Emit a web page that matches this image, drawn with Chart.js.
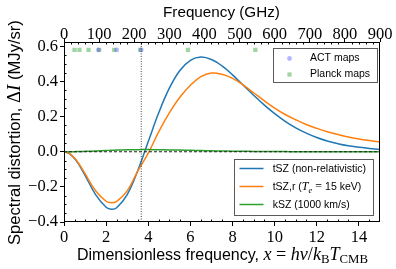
<!DOCTYPE html>
<html><head><meta charset="utf-8">
<script src="https://cdn.jsdelivr.net/npm/chart.js@4.4.1/dist/chart.umd.min.js"></script>
<style>html,body{margin:0;padding:0;background:#fff;overflow:hidden}</style>
</head><body>
<canvas id="c" width="396" height="269"></canvas>
<script>
// ---- data ----
const xDimless = [0,0.25,0.5,0.75,1,1.5,2,2.25,2.5,3,3.5,4,4.5,5,5.5,6,6.5,7,7.5,8,8.5,9,9.5,10,10.5,11,11.5,12,12.5,13,13.5,14,14.5,15];
const tszNonRel = [0,-0.010,-0.038,-0.081,-0.134,-0.244,-0.316,-0.327,-0.319,-0.244,-0.108,0.058,0.223,0.362,0.463,0.521,0.539,0.525,0.489,0.438,0.380,0.322,0.267,0.217,0.173,0.136,0.106,0.081,0.061,0.046,0.034,0.025,0.019,0.0135];
const tszRel = [0,-0.009,-0.036,-0.076,-0.125,-0.222,-0.282,-0.291,-0.283,-0.223,-0.110,-0.008,0.115,0.222,0.310,0.379,0.428,0.448,0.441,0.418,0.381,0.336,0.291,0.249,0.212,0.182,0.155,0.133,0.114,0.098,0.084,0.073,0.064,0.056];
const kszVals = [0,0.0002,0.0006,0.0013,0.0023,0.0047,0.0072,0.0085,0.0095,0.0112,0.0120,0.0122,0.0116,0.0107,0.0094,0.0081,0.0067,0.0055,0.0044,0.0034,0.0027,0.0020,0.0015,0.0011,0.0008,0.0006,0.0004,0.0003,0.0002,0.0002,0.0001,0.0001,0.0001,0];
const actMapsGHz = [98,150,220];
const planckMapsGHz = [30,44,70,100,143,217,353,545];
const mapMarkerLevel = 0.58;
const nullLineGHz = 220;
const xTicksDimless = [0,2,4,6,8,10,12,14];
const yTicks = [-0.4,-0.2,0,0.2,0.4,0.6];
const topTicksGHz = [0,100,200,300,400,500,600,700,800,900];

const SANS = '"Liberation Sans", Arial, sans-serif';
const SERIF = '"Liberation Serif", "Times New Roman", serif';
const C_BLUE = '#1f77b4', C_ORANGE = '#ff7f0e', C_GREEN = '#2ca02c';
const ACT_FILL = 'rgba(60,60,255,0.38)', PLANCK_FILL = 'rgba(44,160,44,0.45)';

function pts(xs, ys){ return xs.map((x,i)=>({x:x, y:ys[i]})); }

function drawRunsFit(ctx, runs, cx, by, targetW){
  const font = (r,k)=> (r.st ? r.st+' ' : '') + (r.sz*k).toFixed(2) + 'px ' + r.fam;
  let w = 0;
  runs.forEach(r=>{ ctx.font = font(r,1); w += ctx.measureText(r.t).width; });
  const k = targetW / w;
  let x = cx - targetW/2;
  runs.forEach(r=>{ ctx.font = font(r,k); ctx.fillText(r.t, x, by + (r.dy||0)*k); x += ctx.measureText(r.t).width; });
}

const decor = {
  id:'decor',
  afterDraw(chart){
    const {ctx, chartArea:a, scales} = chart;
    ctx.save();
    ctx.strokeStyle = '#000'; ctx.lineWidth = 1;
    ctx.strokeRect(Math.round(a.left)+0.5, Math.round(a.top)+0.5, Math.round(a.right-a.left)-1, Math.round(a.bottom-a.top)-1);
    ctx.beginPath();
    for (let v=0.5; v<15; v+=0.5){ if (Math.abs(v%2)<1e-9) continue; const p=Math.round(scales.x.getPixelForValue(v))+0.5; ctx.moveTo(p,a.bottom); ctx.lineTo(p,a.bottom-2.5); }
    for (let g=20; g<900; g+=20){ if (g%100===0) continue; const p=Math.round(scales.x2.getPixelForValue(g))+0.5; ctx.moveTo(p,a.top); ctx.lineTo(p,a.top+2.5); }
    for (let k=-7; k<=12; k++){ if (k%4===0) continue; const v=k*0.05; const p=Math.round(scales.y.getPixelForValue(v))+0.5; ctx.moveTo(a.left,p); ctx.lineTo(a.left+2.5,p); }
    ctx.stroke();

    ctx.fillStyle = '#000';
    ctx.textAlign = 'left'; ctx.textBaseline = 'alphabetic';
    drawRunsFit(ctx, [{t:'Frequency (GHz)', fam:SANS, sz:15}], 221.5, 16.7, 117);
    drawRunsFit(ctx, [
      {t:'Dimensionless frequency, ', fam:SANS, sz:15},
      {t:'x', fam:SERIF, st:'italic', sz:17},{t:' = ', fam:SERIF, sz:17},{t:'hν', fam:SERIF, st:'italic', sz:17},
      {t:'/', fam:SERIF, sz:17},{t:'k', fam:SERIF, st:'italic', sz:17},
      {t:'B', fam:SERIF, sz:12, dy:3},{t:'T', fam:SERIF, st:'italic', sz:17},{t:'CMB', fam:SERIF, sz:12, dy:3}
    ], 222.5, 259.5, 291);
    ctx.save();
    ctx.translate(20, 132.5);
    ctx.rotate(-Math.PI/2);
    drawRunsFit(ctx, [
      {t:'Spectral distortion, ', fam:SANS, sz:15},
      {t:'Δ', fam:SERIF, sz:17},{t:'I', fam:SERIF, st:'italic', sz:17},
      {t:' (MJy/sr)', fam:SANS, sz:15}
    ], 0, 0, 225);
    ctx.restore();

    // legend 1 (maps)
    ctx.fillStyle = 'rgba(255,255,255,0.85)'; ctx.strokeStyle = '#5a5a5a';
    ctx.fillRect(273,48,105,35); ctx.strokeRect(273.5,48.5,104,34);
    ctx.fillStyle = ACT_FILL; ctx.beginPath(); ctx.arc(289.5,58.5,2.4,0,Math.PI*2); ctx.fill();
    ctx.fillStyle = PLANCK_FILL; ctx.fillRect(287.4,72.4,4.2,4.2);
    ctx.fillStyle = '#000'; ctx.textBaseline = 'middle'; ctx.font = '10.5px '+SANS;
    ctx.fillText('ACT maps', 310, 58.5);
    ctx.fillText('Planck maps', 310, 74.5);

    // legend 2 (curves)
    ctx.fillStyle = 'rgba(255,255,255,0.85)'; ctx.strokeStyle = '#5a5a5a';
    ctx.fillRect(234,159,140,57); ctx.strokeRect(234.5,159.5,139,56);
    const rows = [168.5,186.5,204.5], cols = [C_BLUE,C_ORANGE,C_GREEN];
    ctx.lineWidth = 1.5;
    rows.forEach((y,i)=>{ ctx.strokeStyle = cols[i]; ctx.beginPath(); ctx.moveTo(239.5,y); ctx.lineTo(263.5,y); ctx.stroke(); });
    ctx.fillStyle = '#000'; ctx.textBaseline = 'alphabetic';
    const lb = 3.8;
    ctx.font = '10.5px '+SANS; ctx.fillText('tSZ (non-relativistic)', 272.7, rows[0]+lb);
    let x = 272.7;
    const seg = (t,f,dy)=>{ ctx.font=f; ctx.fillText(t,x,rows[1]+lb+(dy||0)); x += ctx.measureText(t).width; };
    seg('tSZ,r (', '10.5px '+SANS); seg('T','italic 12px '+SERIF); seg('e','italic 8.5px '+SERIF,2.5); seg(' = ','12px '+SERIF); seg('15 keV)','10.5px '+SANS);
    ctx.font = '10.5px '+SANS; ctx.fillText('kSZ (1000 km/s)', 272.7, rows[2]+lb);
    ctx.restore();
  }
};

const tickGrid = {display:true, drawOnChartArea:false, drawTicks:true, tickLength:4, tickColor:'#000', tickWidth:1};
const tickFont = {family:'"Liberation Serif", serif', size:16.5};
const lineDs = (label, ys, color, order)=>({label, data:pts(xDimless,ys), borderColor:color, borderWidth:1.5, pointRadius:0, tension:0.4, xAxisID:'x', yAxisID:'y', order});

new Chart(document.getElementById('c').getContext('2d'), {
  type:'line',
  data:{datasets:[
    lineDs('tSZ (non-relativistic)', tszNonRel, C_BLUE, 6),
    lineDs('tSZ,r (Te = 15 keV)', tszRel, C_ORANGE, 5),
    lineDs('kSZ (1000 km/s)', kszVals, C_GREEN, 4),
    {label:'zero', data:[{x:0,y:0},{x:15,y:0}], borderColor:'#222', borderWidth:1, borderDash:[3,2], pointRadius:0, xAxisID:'x', yAxisID:'y', order:3},
    {label:'null', data:[{x:nullLineGHz,y:-0.4},{x:nullLineGHz,y:0.625}], borderColor:'#444', borderWidth:1, borderDash:[1,1.5], pointRadius:0, xAxisID:'x2', yAxisID:'y', order:2},
    {type:'scatter', label:'Planck maps', data:planckMapsGHz.map(f=>({x:f,y:mapMarkerLevel})), pointStyle:'rect', pointRadius:3, backgroundColor:PLANCK_FILL, borderWidth:0, xAxisID:'x2', yAxisID:'y', order:1},
    {type:'scatter', label:'ACT maps', data:actMapsGHz.map(f=>({x:f,y:mapMarkerLevel})), pointStyle:'circle', pointRadius:2.4, backgroundColor:ACT_FILL, borderWidth:0, xAxisID:'x2', yAxisID:'y', order:0}
  ]},
  options:{
    responsive:false, animation:false, devicePixelRatio:1,
    layout:{padding:{left:0,right:16,top:0,bottom:0}},
    plugins:{legend:{display:false}, tooltip:{enabled:false}},
    scales:{
      x:{type:'linear', position:'bottom', min:0, max:15, afterFit(s){s.height=47;},
         afterBuildTicks(s){ s.ticks = xTicksDimless.map(v=>({value:v})); },
         ticks:{autoSkip:false, maxRotation:0, color:'#000', font:tickFont, padding:2, callback:v=>String(v)},
         grid:tickGrid, border:{display:false}},
      x2:{type:'linear', position:'top', min:0, max:900, afterFit(s){s.height=42;},
         afterBuildTicks(s){ s.ticks = topTicksGHz.map(v=>({value:v})); },
         ticks:{autoSkip:false, maxRotation:0, color:'#000', font:tickFont, padding:-7, callback:v=>String(v)},
         grid:tickGrid, border:{display:false}},
      y:{type:'linear', position:'left', min:-0.4, max:0.625, afterFit(s){s.width=64;},
         afterBuildTicks(s){ s.ticks = yTicks.map(v=>({value:v})); },
         ticks:{color:'#000', font:tickFont, padding:2, callback:v=>(v< -1e-9?'−':'')+Math.abs(v).toFixed(1)},
         grid:tickGrid, border:{display:false}}
    }
  },
  plugins:[decor]
});
</script>
</body></html>
